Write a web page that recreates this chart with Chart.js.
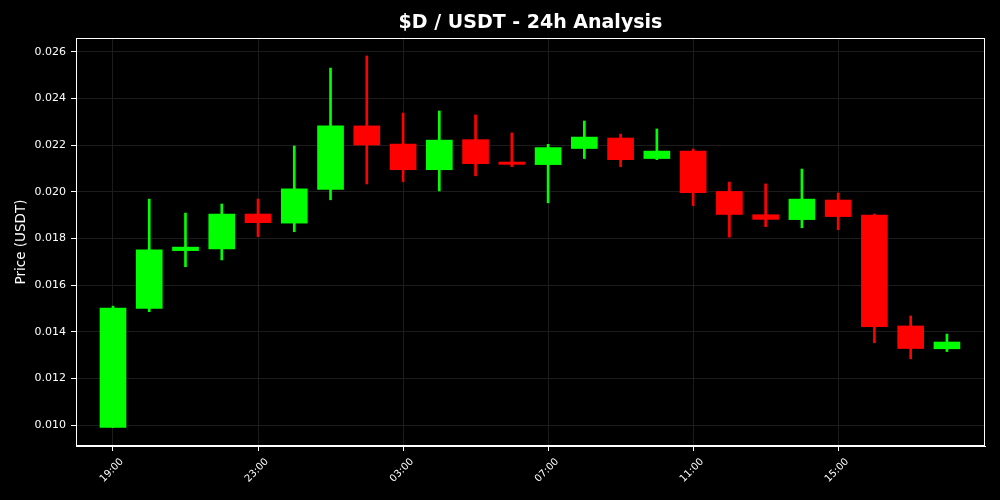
<!DOCTYPE html>
<html lang="en">
<head>
  <meta charset="UTF-8">
  <title>$D / USDT - 24h Analysis</title>
  <script src="https://cdn.jsdelivr.net/npm/chart.js"></script>
  <style>
    html, body {
      margin: 0;
      padding: 0;
      background: #000;
    }
    #wrap {
      width: 1000px;
      height: 500px;
    }
  </style>
</head>
<body>
  <div id="wrap"><canvas id="candles" width="1000" height="500"></canvas></div>

  <script>
    // hourly candles, 19:00 -> 18:00
    const hours = ["19:00", "20:00", "21:00", "22:00", "23:00", "00:00", "01:00", "02:00",
                   "03:00", "04:00", "05:00", "06:00", "07:00", "08:00", "09:00", "10:00",
                   "11:00", "12:00", "13:00", "14:00", "15:00", "16:00", "17:00", "18:00"];
    const opens  = [0.00990, 0.01500, 0.01748, 0.01755, 0.01905, 0.01866, 0.02010, 0.02283,
                    0.02205, 0.02095, 0.02224, 0.02128, 0.02117, 0.02186, 0.02231, 0.02143,
                    0.02175, 0.02002, 0.01902, 0.01881, 0.01965, 0.01901, 0.01425, 0.01327];
    const highs  = [0.01510, 0.01969, 0.01909, 0.01948, 0.01969, 0.02197, 0.02531, 0.02583,
                    0.02338, 0.02347, 0.02330, 0.02253, 0.02204, 0.02304, 0.02248, 0.02270,
                    0.02184, 0.02042, 0.02034, 0.02098, 0.01995, 0.01905, 0.01468, 0.01390];
    const lows   = [0.00989, 0.01486, 0.01679, 0.01708, 0.01808, 0.01829, 0.01966, 0.02034,
                    0.02044, 0.02004, 0.02069, 0.02108, 0.01953, 0.02143, 0.02108, 0.02138,
                    0.01941, 0.01806, 0.01851, 0.01846, 0.01838, 0.01353, 0.01284, 0.01315];
    const closes = [0.01502, 0.01751, 0.01763, 0.01905, 0.01868, 0.02013, 0.02283, 0.02201,
                    0.02095, 0.02222, 0.02121, 0.02118, 0.02190, 0.02235, 0.02138, 0.02175,
                    0.01997, 0.01903, 0.01882, 0.01969, 0.01894, 0.01422, 0.01328, 0.01356];
    const yTicks = [0.010, 0.012, 0.014, 0.016, 0.018, 0.020, 0.022, 0.024, 0.026];
    const xTicks = [0, 4, 8, 12, 16, 20];

    const UP = "#00ff00";
    const DOWN = "#ff0000";
    const colors = closes.map((c, i) => c >= opens[i] ? UP : DOWN);

    const bodies = hours.map((h, i) => ({ x: i, y: [opens[i], closes[i]] }));
    const wicks = hours.map((h, i) => ({ x: i, y: [lows[i], highs[i]] }));

    const font = "'DejaVu Sans', sans-serif";

    // title centred over the plot + white frame round it
    const framePlugin = {
      id: "frame",
      afterDraw(chart) {
        const { ctx, chartArea: a } = chart;
        ctx.save();
        ctx.strokeStyle = "#ffffff";
        ctx.lineWidth = 1;
        ctx.strokeRect(a.left + 0.5, a.top + 0.5, a.right - a.left - 1, a.bottom - a.top - 1);
        ctx.fillStyle = "#ffffff";
        ctx.font = "bold 19px " + font;
        ctx.textAlign = "center";
        ctx.textBaseline = "middle";
        ctx.fillText("$D / USDT - 24h Analysis", (a.left + a.right) / 2, 23);
        ctx.restore();
      }
    };

    new Chart(document.getElementById("candles"), {
      type: "bar",
      data: {
        datasets: [
          {
            label: "body",
            data: bodies,
            backgroundColor: colors,
            borderWidth: 0,
            barThickness: 26,
            grouped: false,
            minBarLength: 1
          },
          {
            label: "wick",
            data: wicks,
            backgroundColor: colors,
            borderWidth: 0,
            barThickness: 2,
            grouped: false
          }
        ]
      },
      options: {
        responsive: false,
        animation: false,
        layout: { padding: { top: 38, right: 15, left: 0, bottom: 0 } },
        plugins: {
          legend: { display: false },
          tooltip: { enabled: false },
          title: { display: false }
        },
        scales: {
          x: {
            type: "linear",
            min: -1.02,
            max: 24.05,
            offset: false,
            afterBuildTicks: s => { s.ticks = xTicks.map(v => ({ value: v })); },
            afterFit: s => { s.height = 54; },
            border: { color: "#ffffff", width: 1 },
            grid: { offset: false, color: "#1c1c1c", tickColor: "#ffffff", tickLength: 5 },
            ticks: {
              color: "#ffffff",
              font: { family: font, size: 10 },
              minRotation: 45,
              maxRotation: 45,
              padding: 5,
              labelOffset: 9,
              callback: v => hours[v]
            }
          },
          y: {
            min: 0.0091,
            max: 0.0266,
            afterBuildTicks: s => { s.ticks = yTicks.map(v => ({ value: v })); },
            afterFit: s => { s.width = 76; },
            border: { color: "#ffffff", width: 1 },
            grid: { color: "#1c1c1c", tickColor: "#ffffff", tickLength: 5 },
            ticks: {
              color: "#ffffff",
              font: { family: font, size: 11 },
              padding: 5,
              callback: v => v.toFixed(3)
            },
            title: {
              display: true,
              text: "Price (USDT)",
              color: "#ffffff",
              font: { family: font, size: 13.5 },
              padding: { top: 13, bottom: 0 }
            }
          }
        }
      },
      plugins: [framePlugin]
    });
  </script>
</body>
</html>
